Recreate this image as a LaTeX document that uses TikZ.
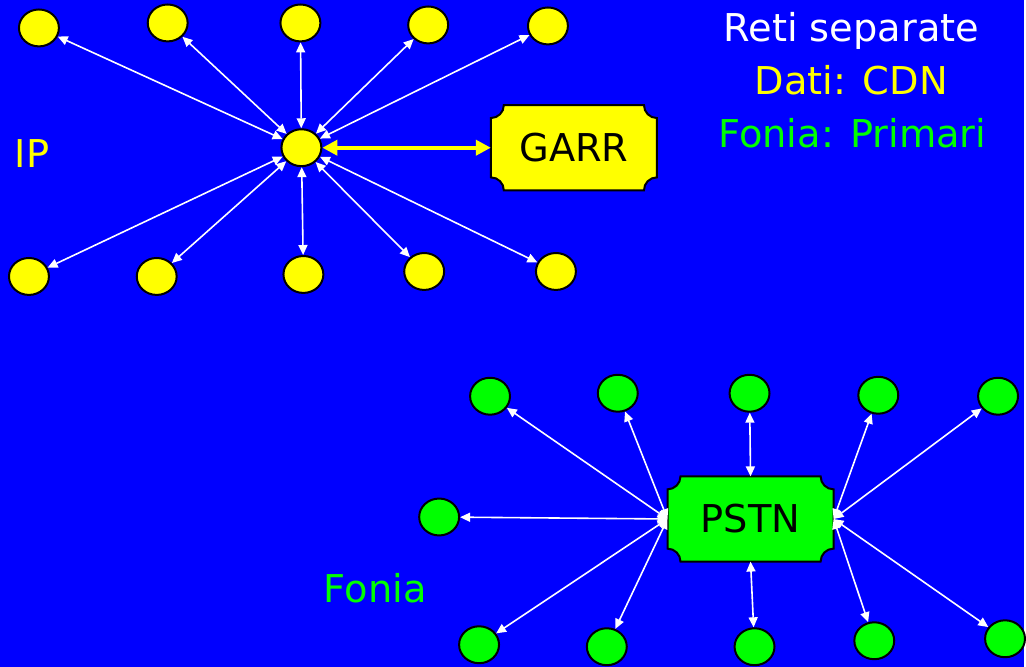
\documentclass[tikz,border=0pt]{standalone}
\usepackage{fontspec}
\setmainfont{DejaVu Sans}
\usetikzlibrary{arrows.meta, shapes.geometric, calc}

\pgfdeclarelayer{back}
\pgfdeclarelayer{boxes}
\pgfsetlayers{back,boxes,main}

\definecolor{sfondo}{RGB}{0,0,255}
\definecolor{giallo}{RGB}{255,255,0}
\definecolor{verde}{RGB}{0,255,0}

% ticket shape (concave corners) behind node #1
\newcommand{\biglietto}[2]{%
  \begin{pgfonlayer}{boxes}
    \draw[line width=2pt, fill=#2]
      ($(#1.north west)+(13pt,0)$) -- ($(#1.north east)+(-13pt,0)$)
      arc[start angle=180, end angle=270, radius=13pt]
      -- ($(#1.south east)+(0,13pt)$)
      arc[start angle=90, end angle=180, radius=13pt]
      -- ($(#1.south west)+(13pt,0)$)
      arc[start angle=0, end angle=90, radius=13pt]
      -- ($(#1.north west)+(0,-13pt)$)
      arc[start angle=270, end angle=360, radius=13pt]
      -- cycle;
  \end{pgfonlayer}}

\begin{document}
\begin{tikzpicture}[
            x = 1pt, y = -1pt, % pixel units, y going down
            > = {Triangle[length=10pt, width=9pt]}, % arrow head style
            font = \fontsize{38.4}{46}\selectfont
        ]

        \tikzstyle{dato}=[
            ellipse,
            draw = black,
            line width = 2pt,
            fill = giallo,
            minimum width = 40pt,
            minimum height = 37pt,
            inner sep = 0pt
        ]
        \tikzstyle{voce}=[dato, fill = verde]
        \tikzstyle{rete}=[minimum width = 166pt, minimum height = 85pt, inner sep = 0pt]
        \tikzstyle{link}=[<->, white, line width = 1.6pt]

	\begin{pgfonlayer}{back}
	  \fill[sfondo] (0,0) rectangle (1026,668);
	\end{pgfonlayer}

	% rete dati
	\node[dato] (hub) at (302,148) {};
	\node[dato] (y1) at (39,28) {};
	\node[dato] (y2) at (168,23) {};
	\node[dato] (y3) at (301,23) {};
	\node[dato] (y4) at (429,25) {};
	\node[dato] (y5) at (549,26) {};
	\node[dato] (y6) at (29,277) {};
	\node[dato] (y7) at (157,277) {};
	\node[dato] (y8) at (304,275) {};
	\node[dato] (y9) at (425,272) {};
	\node[dato] (y10) at (557,272) {};
	\node[rete] (garr) at (575,148) {GARR};
	\biglietto{garr}{giallo}

	\path[link] (hub) edge (y1) edge (y2) edge (y3) edge (y4) edge (y5)
	            edge (y6) edge (y7) edge (y8) edge (y9) edge (y10);
	\draw[<->, > = {Triangle[length=15pt, width=15pt]}, giallo, line width = 4pt] (hub) -- (garr);

	% rete fonia
	\node[rete] (pstn) at (752,520) {PSTN};
	\biglietto{pstn}{verde}
	\node[voce] (g1) at (491,397) {};
	\node[voce] (g2) at (619,394) {};
	\node[voce] (g3) at (751,394) {};
	\node[voce] (g4) at (880,396) {};
	\node[voce] (g5) at (1000,397) {};
	\node[voce] (g6) at (440,518) {};
	\node[voce] (g7) at (480,646) {};
	\node[voce] (g8) at (608,648) {};
	\node[voce] (g9) at (756,648) {};
	\node[voce] (g10) at (876,642) {};
	\node[voce] (g11) at (1007,640) {};

	\path[link] (pstn.west) edge (g1) edge (g2) edge (g6) edge (g7) edge (g8);
	\path[link] (pstn.east) edge (g4) edge (g5) edge (g10) edge (g11);
	\path[link] (pstn.north) edge (g3);
	\path[link] (pstn.south) edge (g9);

	% testi
	\node[anchor=base, text=giallo] (ip) at (32,168) {IP};
	\node[anchor=base, text=verde] (fonia) at (376,604) {Fonia};
	\node[anchor=base, text=white] (titolo) at (853,42) {Reti separate};
	\node[anchor=base, text=giallo] (dati) at (853,95) {Dati: CDN};
	\node[anchor=base, text=verde] (primari) at (854,148) {Fonia: Primari};

    \end{tikzpicture}
\end{document}
